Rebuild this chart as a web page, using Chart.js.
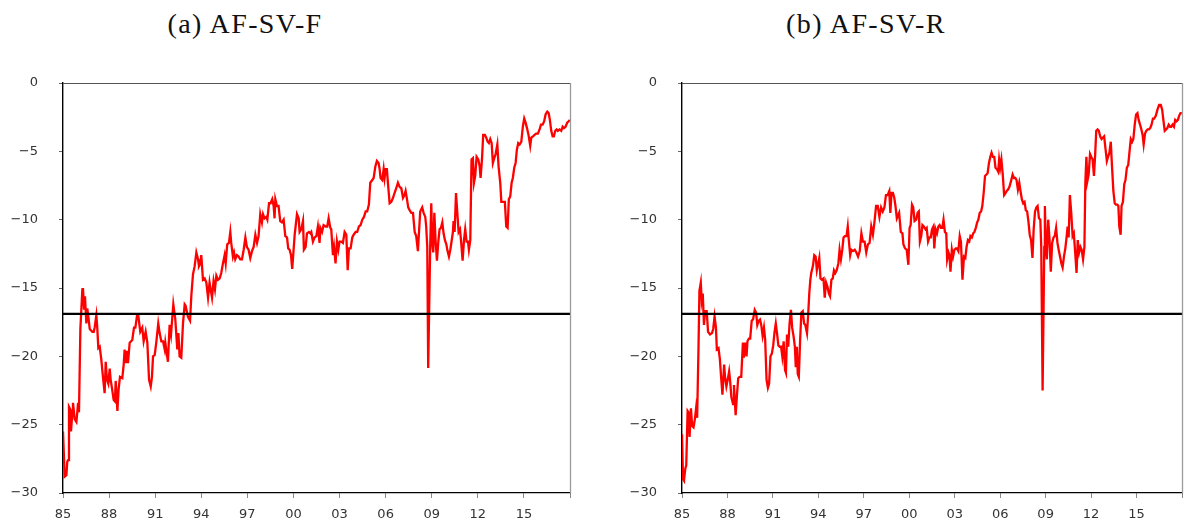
<!DOCTYPE html>
<html>
<head>
<meta charset="utf-8">
<script src="https://cdn.jsdelivr.net/npm/chart.js@4.4.1/dist/chart.umd.min.js"></script>
<style>
  html, body { margin: 0; padding: 0; background: #fff; }
  body { width: 1191px; height: 526px; position: relative; overflow: hidden; }
  .panel { position: absolute; top: 0; height: 526px; }
  .title {
    position: absolute; top: 10px; width: 240px; text-align: center;
    font-family: "Liberation Serif", "DejaVu Serif", serif; font-size: 28px;
    line-height: 27px; letter-spacing: 1.4px; color: #111; white-space: nowrap;
  }
</style>
</head>
<body>
<div class="title" style="left:125px">(a) AF-SV-F</div>
<div class="title" style="left:746px">(b) AF-SV-R</div>
<div class="panel" style="left:0;width:595px"><canvas id="chartF"></canvas></div>
<div class="panel" style="left:600px;width:591px"><canvas id="chartR"></canvas></div>
<script>
// Readings, time in decimal years
const yearsF = [
  1985.00,1985.11,1985.22,1985.28,1985.33,1985.39,1985.48,1985.52,1985.61,1985.65,1985.76,1985.87,1985.93,1985.98,
  1986.04,1986.13,1986.26,1986.30,1986.37,1986.43,1986.52,1986.58,1986.65,1986.74,1986.91,
  1987.00,1987.06,1987.17,1987.23,1987.30,1987.39,1987.49,1987.60,1987.71,1987.78,1987.86,1987.95,
  1988.04,1988.10,1988.17,1988.30,1988.38,1988.43,1988.54,1988.62,1988.71,1988.86,1988.95,
  1989.01,1989.08,1989.14,1989.23,1989.34,1989.51,1989.62,1989.71,1989.82,1989.90,
  1990.03,1990.16,1990.25,1990.38,1990.49,1990.60,1990.71,1990.79,1990.86,1990.97,
  1991.07,1991.20,1991.29,1991.40,1991.51,1991.62,1991.66,1991.83,1991.94,
  1992.03,1992.18,1992.31,1992.44,1992.51,1992.59,1992.70,1992.81,1992.92,1992.98,
  1993.13,1993.27,1993.35,1993.46,1993.57,1993.68,1993.79,1993.85,1993.94,
  1994.00,1994.11,1994.22,1994.33,1994.44,1994.54,1994.61,1994.70,1994.80,1994.89,1994.98,
  1995.09,1995.20,1995.30,1995.41,1995.52,1995.59,1995.69,1995.80,1995.89,1995.95,
  1996.06,1996.13,1996.21,1996.32,1996.43,1996.54,1996.65,1996.76,1996.87,1996.97,
  1997.08,1997.19,1997.30,1997.41,1997.52,1997.63,1997.73,1997.84,1997.95,
  1998.02,1998.12,1998.23,1998.30,1998.41,1998.51,1998.62,1998.71,1998.77,1998.82,1998.93,
  1999.03,1999.14,1999.25,1999.36,1999.47,1999.58,1999.66,1999.75,1999.84,1999.92,
  2000.08,2000.23,2000.34,2000.40,2000.51,2000.62,2000.68,2000.79,2000.88,
  2001.01,2001.10,2001.16,2001.27,2001.38,2001.49,2001.59,2001.70,2001.75,2001.86,2001.96,
  2002.09,2002.20,2002.29,2002.40,2002.46,2002.57,2002.64,2002.74,2002.83,2002.92,
  2003.00,2003.11,2003.22,2003.33,2003.44,2003.53,2003.61,2003.72,2003.83,2003.92,
  2004.05,2004.15,2004.26,2004.37,2004.48,2004.59,2004.70,2004.80,2004.91,
  2005.00,2005.13,2005.22,2005.33,2005.43,2005.54,2005.61,2005.67,2005.78,2005.87,2005.93,
  2006.00,2006.08,2006.17,2006.26,2006.37,2006.48,2006.58,2006.69,2006.80,2006.91,
  2007.02,2007.13,2007.23,2007.30,2007.39,2007.47,2007.56,2007.67,2007.78,2007.89,2007.99,
  2008.10,2008.25,2008.38,2008.47,2008.58,2008.64,2008.71,2008.77,2008.90,2008.97,
  2009.03,2009.10,2009.17,2009.25,2009.34,2009.43,2009.51,2009.60,2009.69,2009.77,2009.86,2009.95,
  2010.03,2010.12,2010.21,2010.29,2010.38,2010.42,2010.49,2010.58,2010.66,2010.75,2010.84,2010.92,
  2011.01,2011.10,2011.18,2011.27,2011.36,2011.42,2011.51,2011.59,2011.68,2011.75,2011.83,2011.92,
  2012.03,2012.12,2012.18,2012.27,2012.35,2012.46,2012.55,2012.64,2012.72,2012.81,2012.90,2012.98,
  2013.07,2013.16,2013.27,2013.35,2013.46,2013.53,2013.63,2013.76,2013.85,2013.94,
  2014.02,2014.11,2014.20,2014.28,2014.37,2014.46,2014.54,2014.63,2014.72,2014.83,2014.93,
  2015.02,2015.11,2015.20,2015.30,2015.41,2015.48,2015.59,2015.69,2015.80,2015.91,
  2016.02,2016.11,2016.22,2016.32,2016.41,2016.52,2016.61,2016.69,2016.78,2016.87,2016.95,
  2017.04,2017.13,2017.21,2017.32,2017.43,2017.52,2017.60,2017.71,2017.82,2017.91,2017.99
];
const valuesF = [
  -25.5,-28.8,-28.7,-27.7,-27.6,-23.7,-23.9,-25.5,-24.1,-23.4,-24.6,-24.8,-24.1,-23.4,
  -24.1,-18.0,-15.1,-15.0,-16.5,-15.6,-17.6,-16.5,-17.1,-18.0,-18.2,
  -18.2,-17.9,-17.0,-17.9,-19.4,-19.3,-20.2,-21.5,-22.7,-20.4,-21.7,-22.0,
  -20.9,-21.7,-22.2,-23.2,-23.3,-21.8,-24.0,-22.4,-21.5,-21.6,-20.6,
  -19.5,-20.5,-19.6,-20.5,-19.0,-18.8,-17.9,-17.9,-17.0,-17.0,
  -18.2,-17.9,-18.9,-18.2,-19.0,-21.7,-22.2,-21.5,-20.0,-19.9,
  -19.0,-17.6,-18.3,-18.9,-18.9,-19.5,-19.0,-20.4,-17.7,
  -18.4,-16.2,-17.3,-19.5,-18.3,-20.0,-20.1,-17.6,-16.2,-16.3,
  -17.1,-17.4,-15.6,-14.0,-13.4,-12.4,-12.9,-13.4,-13.2,
  -12.6,-14.4,-14.3,-14.6,-15.7,-14.6,-15.1,-15.7,-14.5,-15.1,-14.1,
  -14.4,-14.3,-13.9,-13.2,-12.6,-13.2,-11.8,-11.7,-10.9,-11.7,
  -12.7,-12.4,-12.9,-12.6,-12.7,-12.9,-12.9,-12.2,-11.3,-12.0,
  -12.2,-12.8,-12.3,-12.0,-11.1,-11.7,-11.2,-9.6,-10.2,
  -9.6,-9.9,-9.8,-10.0,-8.8,-8.8,-8.5,-9.0,-9.9,-8.5,-9.0,
  -9.0,-10.1,-10.2,-10.0,-11.2,-11.3,-12.1,-12.2,-12.6,-13.6,
  -11.1,-9.6,-9.9,-10.9,-10.7,-10.1,-12.2,-12.0,-11.0,
  -10.9,-11.0,-10.9,-11.6,-11.3,-11.2,-10.5,-11.7,-10.6,-10.9,-10.4,
  -10.5,-10.5,-9.9,-10.6,-10.7,-12.6,-12.0,-13.2,-11.6,-12.2,
  -11.6,-11.6,-11.7,-10.9,-11.1,-13.7,-12.1,-12.1,-11.3,-11.1,
  -10.9,-10.9,-10.5,-10.4,-10.0,-9.8,-9.4,-9.4,-8.9,
  -7.3,-7.1,-6.95,-6.1,-5.7,-5.85,-6.3,-6.95,-7.1,-6.3,-6.95,
  -6.3,-6.3,-7.6,-8.8,-8.7,-8.4,-8.05,-7.7,-7.3,-7.6,
  -7.7,-8.4,-8.2,-7.9,-8.5,-9.1,-9.3,-9.5,-9.5,-10.9,-11.2,
  -12.3,-9.4,-9.1,-9.5,-9.8,-10.5,-12.0,-20.85,-12.0,-8.8,
  -11.7,-12.4,-9.5,-11.5,-13.0,-11.6,-10.7,-10.6,-10.2,-11.0,-11.5,-11.8,
  -12.3,-12.7,-12.2,-11.6,-10.9,-10.1,-10.9,-8.05,-9.4,-10.9,-10.7,-11.7,
  -13.0,-11.5,-10.7,-11.6,-11.6,-12.2,-11.5,-5.6,-5.5,-7.3,-6.8,-5.4,
  -5.6,-6.1,-6.95,-5.6,-3.8,-3.8,-4.0,-4.3,-4.4,-4.1,-4.4,-5.85,
  -5.5,-5.2,-4.5,-6.1,-7.3,-8.7,-8.7,-8.7,-10.5,-10.6,
  -8.5,-8.3,-7.3,-6.95,-6.2,-5.85,-4.9,-4.4,-4.5,-4.3,-3.2,
  -2.6,-2.9,-3.3,-3.8,-4.6,-4.0,-3.9,-3.8,-3.7,-3.7,
  -3.4,-3.05,-3.05,-2.8,-2.3,-2.1,-2.2,-2.7,-3.5,-3.9,-3.9,
  -3.5,-3.4,-3.5,-3.4,-3.5,-3.2,-3.3,-3.2,-2.9,-2.8,-2.7
];

const yearsR = [
  1985.00,1985.07,1985.13,1985.22,1985.28,1985.37,1985.43,1985.50,1985.59,1985.67,1985.76,1985.85,1985.93,
  1986.00,1986.09,1986.15,1986.24,1986.30,1986.37,1986.45,1986.52,1986.63,1986.72,1986.85,1986.98,
  1987.06,1987.15,1987.24,1987.30,1987.41,1987.50,1987.58,1987.67,1987.78,1987.84,1987.93,
  1988.02,1988.11,1988.17,1988.26,1988.37,1988.43,1988.54,1988.63,1988.71,1988.80,1988.91,
  1989.02,1989.08,1989.17,1989.26,1989.32,1989.41,1989.50,1989.60,1989.69,1989.80,1989.89,1989.97,
  1990.06,1990.15,1990.23,1990.32,1990.41,1990.49,1990.58,1990.67,1990.75,1990.84,1990.93,
  1991.02,1991.10,1991.19,1991.28,1991.36,1991.45,1991.54,1991.62,1991.71,1991.80,1991.86,1991.93,
  1992.01,1992.10,1992.19,1992.27,1992.36,1992.45,1992.51,1992.58,1992.64,1992.71,1992.80,1992.88,1992.97,
  1993.06,1993.14,1993.25,1993.32,1993.40,1993.47,1993.53,1993.64,1993.73,1993.82,1993.90,1993.99,
  1994.06,1994.14,1994.23,1994.34,1994.42,1994.51,1994.60,1994.69,1994.77,1994.86,1994.95,
  1995.03,1995.12,1995.21,1995.32,1995.40,1995.49,1995.58,1995.66,1995.75,1995.86,1995.94,
  1996.01,1996.10,1996.18,1996.29,1996.40,1996.51,1996.62,1996.73,1996.84,1996.94,
  1997.05,1997.16,1997.27,1997.38,1997.49,1997.60,1997.70,1997.81,1997.92,
  1998.03,1998.14,1998.25,1998.36,1998.46,1998.57,1998.68,1998.75,1998.83,1998.92,
  1999.01,1999.09,1999.18,1999.22,1999.33,1999.44,1999.55,1999.61,1999.72,1999.83,1999.94,
  2000.02,2000.09,2000.18,2000.26,2000.35,2000.46,2000.55,2000.63,2000.70,2000.79,2000.87,2000.96,
  2001.07,2001.15,2001.24,2001.33,2001.42,2001.50,2001.59,2001.65,2001.74,2001.83,2001.92,
  2002.00,2002.09,2002.18,2002.26,2002.35,2002.44,2002.50,2002.59,2002.65,2002.72,2002.81,2002.89,2002.98,
  2003.07,2003.15,2003.24,2003.33,2003.41,2003.51,2003.61,2003.70,2003.78,2003.87,2003.96,
  2004.04,2004.13,2004.22,2004.30,2004.39,2004.48,2004.56,2004.65,2004.74,2004.82,2004.91,
  2005.00,2005.09,2005.17,2005.26,2005.35,2005.43,2005.52,2005.61,2005.69,2005.78,2005.87,2005.93,
  2006.00,2006.08,2006.17,2006.26,2006.35,2006.43,2006.52,2006.61,2006.71,2006.82,2006.91,
  2007.00,2007.08,2007.17,2007.26,2007.34,2007.43,2007.52,2007.61,2007.69,2007.78,2007.87,2007.95,
  2008.04,2008.13,2008.21,2008.30,2008.39,2008.47,2008.56,2008.65,2008.71,2008.80,2008.91,2008.95,
  2009.02,2009.08,2009.17,2009.26,2009.34,2009.43,2009.52,2009.60,2009.69,2009.78,2009.86,2009.95,
  2010.04,2010.12,2010.21,2010.30,2010.39,2010.45,2010.52,2010.60,2010.69,2010.78,2010.86,2010.95,
  2011.04,2011.12,2011.21,2011.30,2011.38,2011.47,2011.56,2011.62,2011.69,2011.75,2011.84,2011.93,
  2012.01,2012.10,2012.19,2012.27,2012.34,2012.43,2012.51,2012.60,2012.69,2012.77,2012.86,2012.95,
  2013.04,2013.12,2013.21,2013.30,2013.38,2013.47,2013.56,2013.64,2013.73,2013.80,2013.86,2013.95,
  2014.01,2014.10,2014.19,2014.27,2014.36,2014.45,2014.53,2014.62,2014.71,2014.79,2014.88,2014.97,
  2015.06,2015.14,2015.23,2015.32,2015.40,2015.47,2015.56,2015.64,2015.73,2015.82,2015.90,2015.99,
  2016.08,2016.16,2016.27,2016.38,2016.49,2016.60,2016.69,2016.77,2016.86,2016.95,
  2017.03,2017.12,2017.21,2017.29,2017.38,2017.47,2017.55,2017.64,2017.73,2017.81,2017.90,2017.99
];
const valuesR = [
  -25.7,-29.0,-29.1,-28.2,-28.0,-24.0,-24.1,-25.9,-23.8,-25.1,-25.2,-24.6,-23.8,
  -24.5,-19.3,-15.2,-14.6,-15.9,-15.4,-17.7,-16.7,-16.7,-18.2,-18.4,-18.3,
  -18.0,-17.1,-17.9,-19.5,-19.4,-20.2,-21.5,-22.8,-20.6,-21.5,-22.2,
  -21.7,-21.1,-21.7,-23.0,-23.5,-22.1,-24.3,-22.8,-21.6,-21.5,-21.5,
  -19.0,-20.1,-19.0,-20.0,-18.9,-18.7,-18.7,-17.4,-17.3,-16.6,-16.8,-17.7,
  -17.4,-17.3,-17.7,-18.5,-17.9,-18.8,-21.7,-22.3,-22.0,-20.0,-19.8,
  -19.2,-18.3,-17.6,-18.4,-19.2,-19.3,-19.3,-20.0,-18.9,-21.0,-21.2,-18.4,
  -19.3,-17.6,-16.6,-17.9,-18.5,-19.3,-20.8,-19.3,-21.3,-21.5,-18.7,-16.8,-16.7,
  -17.6,-17.7,-18.3,-17.1,-15.4,-14.4,-13.9,-13.4,-12.6,-12.7,-13.7,-13.2,
  -12.8,-14.3,-14.4,-14.3,-15.7,-14.6,-14.9,-15.4,-15.6,-14.4,-14.3,
  -13.7,-13.9,-13.7,-13.2,-12.2,-12.9,-12.2,-11.3,-11.2,-11.2,-10.5,
  -11.5,-12.6,-12.2,-12.3,-12.2,-12.4,-12.7,-12.3,-11.0,-11.6,
  -11.6,-12.4,-11.8,-11.7,-10.5,-11.1,-10.2,-9.0,-9.0,
  -9.8,-9.1,-9.4,-9.1,-8.2,-8.2,-7.9,-9.5,-8.05,-8.05,
  -8.4,-9.0,-9.9,-9.8,-9.5,-10.9,-11.0,-11.8,-12.1,-12.2,-13.3,
  -10.6,-10.4,-8.9,-9.1,-10.1,-10.0,-9.5,-9.4,-11.6,-11.2,-10.4,-10.5,
  -10.7,-10.6,-11.6,-11.3,-11.3,-10.7,-10.5,-12.1,-10.7,-11.0,-10.5,
  -10.4,-10.6,-10.6,-10.0,-10.9,-11.0,-12.9,-12.4,-12.6,-13.8,-12.2,-12.7,-12.2,
  -12.1,-12.1,-12.3,-11.2,-11.6,-14.4,-12.7,-12.8,-12.0,-11.5,-11.6,
  -11.2,-11.3,-11.0,-10.9,-10.6,-10.2,-10.0,-9.5,-9.4,-9.0,-8.05,
  -6.8,-6.7,-6.6,-5.85,-5.4,-5.1,-5.4,-5.4,-6.2,-6.3,-6.5,-5.6,
  -6.2,-5.6,-6.7,-8.2,-8.05,-7.9,-7.8,-7.6,-7.2,-6.7,-6.95,
  -6.95,-7.1,-7.8,-7.3,-7.9,-8.5,-8.8,-8.7,-9.3,-9.4,-10.2,-11.1,
  -11.5,-12.8,-10.7,-9.4,-9.1,-9.0,-9.9,-10.0,-12.0,-22.5,-12.0,-9.0,
  -12.2,-12.9,-10.0,-11.5,-13.8,-11.7,-11.3,-11.2,-10.6,-11.7,-12.2,-12.7,
  -13.2,-13.5,-12.7,-12.1,-11.2,-10.5,-11.3,-8.2,-9.5,-11.2,-11.0,-12.4,
  -13.9,-11.5,-12.4,-12.0,-12.2,-12.9,-12.0,-7.3,-5.4,-7.2,-6.7,-5.2,
  -5.4,-5.6,-6.8,-5.2,-3.5,-3.4,-3.5,-3.9,-4.1,-4.0,-3.9,-4.8,
  -5.7,-5.4,-5.1,-4.3,-6.1,-7.9,-8.8,-8.9,-8.9,-9.0,-10.5,-11.1,
  -9.0,-8.7,-7.4,-7.1,-6.2,-6.0,-5.1,-4.1,-4.3,-4.1,-3.05,-2.3,
  -2.2,-2.7,-3.05,-3.4,-3.8,-4.5,-3.7,-3.5,-3.4,-3.4,-3.3,-3.05,
  -2.6,-2.6,-2.4,-1.95,-1.6,-1.6,-1.95,-2.7,-3.5,-3.4,
  -3.3,-3.05,-3.2,-3.2,-3.05,-3.2,-2.7,-2.8,-2.7,-2.4,-2.2,-2.2
];

// Reference level drawn across each panel
const thresholdLevel = -16.9;

// Axis ticks
const yearTicks = [1985, 1988, 1991, 1994, 1997, 2000, 2003, 2006, 2009, 2012, 2015, 2018];
const yearTickLabels = ['85', '88', '91', '94', '97', '00', '03', '06', '09', '12', '15', ''];
const valueTicks = [0, -5, -10, -15, -20, -25, -30];
const valueTickLabels = ['0', '\u22125', '\u221210', '\u221215', '\u221220', '\u221225', '\u221230'];
const xMin = 1985, xMax = 2018;

Chart.defaults.font.family = '"DejaVu Sans", sans-serif';
Chart.defaults.font.size = 13;
Chart.defaults.color = '#333';

// Closes the plot frame on the top and right sides
const frameLines = {
  id: 'frameLines',
  afterDatasetsDraw(chart) {
    const { ctx, chartArea: a } = chart;
    ctx.save();
    ctx.lineWidth = 1;
    ctx.strokeStyle = '#555';
    ctx.beginPath();
    ctx.moveTo(a.left, Math.round(a.top) + 0.5);
    ctx.lineTo(a.right, Math.round(a.top) + 0.5);
    ctx.stroke();
    ctx.strokeStyle = '#9a9a9a';
    ctx.lineWidth = 1.3;
    ctx.beginPath();
    ctx.moveTo(Math.round(a.right) + 0.5, a.top);
    ctx.lineTo(Math.round(a.right) + 0.5, a.bottom);
    ctx.stroke();
    ctx.restore();
  }
};

function makePanel(canvasId, years, values, yAxisWidth, rightPad) {
  const series = years.map((x, i) => ({ x, y: values[i] }));
  const level = [{ x: xMin, y: thresholdLevel }, { x: xMax, y: thresholdLevel }];
  return new Chart(document.getElementById(canvasId), {
    type: 'line',
    data: {
      datasets: [
        { data: series, borderColor: '#ff0000', borderWidth: 2.3, pointRadius: 0, tension: 0, order: 2 },
        { data: level, borderColor: '#000', borderWidth: 2.3, pointRadius: 0, order: 1 }
      ]
    },
    options: {
      responsive: true,
      maintainAspectRatio: false,
      animation: false,
      events: [],
      layout: { padding: { left: 0, right: rightPad, top: 83, bottom: 0 } },
      plugins: { legend: { display: false }, tooltip: { enabled: false }, title: { display: false } },
      scales: {
        x: {
          type: 'linear', min: xMin, max: xMax,
          afterBuildTicks: s => { s.ticks = yearTicks.map(v => ({ value: v })); },
          afterFit: s => { s.height = 33; },
          ticks: {
            autoSkip: false, maxRotation: 0, padding: 9,
            callback: v => yearTickLabels[yearTicks.indexOf(v)]
          },
          grid: { drawOnChartArea: false, tickLength: 5, color: '#8a8a8a', lineWidth: 1 },
          border: { color: '#000', width: 1.2 }
        },
        y: {
          type: 'linear', min: -30, max: 0,
          afterBuildTicks: s => { s.ticks = valueTicks.map(v => ({ value: v })); },
          afterFit: s => { s.width = yAxisWidth; },
          ticks: {
            padding: 21,
            callback: v => valueTickLabels[valueTicks.indexOf(v)]
          },
          grid: { drawOnChartArea: false, tickLength: 4, color: '#666', lineWidth: 1 },
          border: { color: '#000', width: 1.4 }
        }
      }
    },
    plugins: [frameLines]
  });
}

makePanel('chartF', yearsF, valuesF, 63, 25);
makePanel('chartR', yearsR, valuesR, 82, 3);
</script>
</body>
</html>
